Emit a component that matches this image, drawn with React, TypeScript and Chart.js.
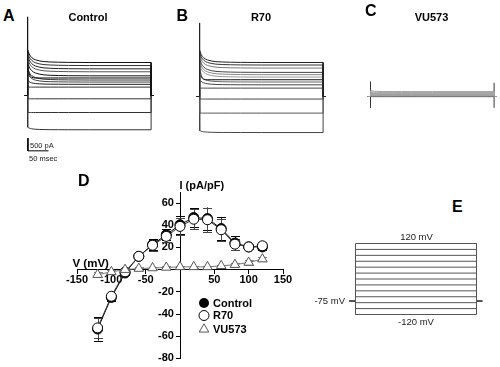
import React, { useEffect, useRef } from 'react';
import { Chart, registerables } from 'chart.js';

Chart.register(...registerables);

const FONT = "'Liberation Sans', Arial, Helvetica, sans-serif";

// ---------- Panel D : I-V relationship (pA/pF vs mV) ----------
const voltages = [-120, -100, -80, -60, -40, -20, 0, 20, 40, 60, 80, 100, 120];
const controlIV = [-53.5, -25, -3, 12, 22.5, 31.5, 40.5, 47, 46, 37, 24, 20.5, 20.5];
const controlErr = [10.5, 3, 2, 1.5, 5, 5, 8, 8.5, 10, 10.5, 6, 2, 2.5];
const r70IV = [-52.5, -24, -2, 12, 22, 30, 39, 45.5, 45, 36, 23, 20.5, 21.5];
const r70Err = [9, 3, 2, 1.5, 5, 5, 8, 9, 11, 10, 5, 2, 3];
const vuIV = [-4.5, -2, 0, 1, 1.5, 2, 2.5, 2.5, 2.5, 3.5, 4.5, 6.5, 9.5];
const vuErr = [2.5, 1.5, 1.5, 1, 1, 1, 1, 1, 1, 1, 1.5, 2, 2];
const xTickValues = [-150, -100, -50, 50, 100, 150];
const yTickValues = [-80, -60, -40, -20, 20, 40, 60];
const legendLabels = ['Control', 'R70', 'VU573'];

// ---------- Panels A-C : current traces (pA vs ms) ----------
const decayTimes = [0, 1, 2, 4, 7, 10, 15, 20, 30, 40, 55, 75, 100, 150, 300];
const slowDecay = [1, 0.85, 0.72, 0.56, 0.42, 0.33, 0.23, 0.17, 0.1, 0.06, 0.035, 0.018, 0.008, 0, 0];
const fastDecay = [1, 0.75, 0.55, 0.3, 0.12, 0.05, 0.01, 0, 0, 0, 0, 0, 0, 0, 0];
const holdStart = -8;
const pulseEnd = 300;
const holdEnd = 307;

const controlSteady = [1300, 1180, 1050, 935, 775, 690, 610, 530, 440, 330, -130, -670, -1350];
const controlPeak = [1900, 1800, 1680, 1560, 1400, 1280, 1150, 950, 620, 330, -130, -670, -1230];
const controlFast = [0, 0, 0, 0, 0, 1, 0, 0, 0, 0, 0, 0, 0];
const controlShade = ['#111', '#333', '#222', '#555', '#111', '#000', '#333', '#444', '#222', '#333', '#333', '#333', '#333'];
const controlSpike = 3100;

const r70Steady = [1340, 1240, 1120, 950, 860, 765, 660, 570, 460, 330, -100, -655, -1420];
const r70Peak = [1900, 1820, 1720, 1600, 1480, 1350, 1250, 900, 700, 330, -100, -655, -1330];
const r70Fast = [0, 0, 0, 0, 0, 0, 1, 0, 0, 0, 0, 0, 0];
const r70Shade = ['#222', '#333', '#777', '#444', '#888', '#999', '#111', '#666', '#444', '#444', '#444', '#555', '#444'];
const r70Spike = 2900;

const vuSteady = [-10, 0, 10, 20, 30, 45, 60, 75, 90, 110, 130, 160, 190];
const vuPeak = [-10, 0, 10, 25, 40, 60, 80, 100, 120, 140, 160, 200, 240];
const vuShade = ['#999', '#222', '#999', '#aaa', '#999', '#aaa', '#999', '#aaa', '#999', '#aaa', '#999', '#aaa', '#999'];
const vuTransientOn = [-450, 590];
const vuTransientOff = [-445, 540];

const scaleBarCurrent = 500; // pA
const scaleBarTime = 50; // ms
const scaleBarOrigin = { t: 1, i: -2180 };

// ---------- Panel E : voltage protocol (mV vs ms) ----------
const stepVoltages = [-120, -100, -80, -60, -40, -20, 0, 20, 40, 60, 80, 100, 120];
const holdingPotential = -75;
const protocolPre = -15;
const protocolPost = 314;

type Geo = { left: number; top: number; width: number; height: number; x0: number; y0: number; pxPerX: number; pxPerY: number };

const geoA: Geo = { left: 15, top: 8, width: 150, height: 152, x0: 27.5, y0: 95.5, pxPerX: 0.412, pxPerY: 1 / 39.4 };
const geoB: Geo = { left: 185, top: 8, width: 150, height: 135, x0: 199.5, y0: 96.5, pxPerX: 0.412, pxPerY: 1 / 39.4 };
const geoC: Geo = { left: 355, top: 60, width: 145, height: 60, x0: 370.5, y0: 96.5, pxPerX: 0.412, pxPerY: 1 / 39.4 };
const geoE: Geo = { left: 340, top: 230, width: 150, height: 100, x0: 355.5, y0: 279, pxPerX: 121 / 300, pxPerY: 35.5 / 120 };

function tracePoints(steady: number, peak: number, shape: number[], spike?: number) {
  const pts: { x: number; y: number }[] = [{ x: holdStart, y: 0 }, { x: 0, y: 0 }];
  if (spike !== undefined) pts.push({ x: 0, y: spike });
  decayTimes.forEach((t, i) => pts.push({ x: t, y: steady + (peak - steady) * shape[i] }));
  pts.push({ x: pulseEnd, y: 0 }, { x: holdEnd, y: 0 });
  return pts;
}

function lineDs(data: { x: number; y: number }[], color: string, width = 1) {
  return { data, showLine: true, borderColor: color, borderWidth: width, pointRadius: 0, fill: false, tension: 0 };
}

function buildTraceSets(steady: number[], peak: number[], fast: number[] | null, shade: string[], spike?: number) {
  return steady.map((s, i) =>
    lineDs(tracePoints(s, peak[i], fast && fast[i] ? fastDecay : slowDecay, i === 0 ? spike : undefined), shade[i])
  );
}

function LineCanvas({ geo, datasets }: { geo: Geo; datasets: any[] }) {
  const ref = useRef<HTMLCanvasElement>(null);
  useEffect(() => {
    const xmin = -(geo.x0 - geo.left) / geo.pxPerX;
    const xmax = xmin + geo.width / geo.pxPerX;
    const ymax = (geo.y0 - geo.top) / geo.pxPerY;
    const ymin = ymax - geo.height / geo.pxPerY;
    const chart = new Chart(ref.current as HTMLCanvasElement, {
      type: 'scatter',
      data: { datasets },
      options: {
        animation: false,
        responsive: false,
        devicePixelRatio: 1,
        events: [],
        layout: { padding: 0 },
        plugins: { legend: { display: false }, tooltip: { enabled: false } },
        scales: {
          x: { type: 'linear', display: false, min: xmin, max: xmax },
          y: { type: 'linear', display: false, min: ymin, max: ymax },
        },
      } as any,
    });
    return () => chart.destroy();
  }, []);
  return (
    <canvas
      ref={ref}
      width={geo.width}
      height={geo.height}
      style={{ position: 'absolute', left: geo.left, top: geo.top, width: geo.width, height: geo.height }}
    />
  );
}

function IVChart() {
  const ref = useRef<HTMLCanvasElement>(null);
  useEffect(() => {
    const mk = (arr: number[]) => voltages.map((v, i) => ({ x: v, y: arr[i] }));
    const errSeries = [
      { vals: controlIV, err: controlErr, color: '#000' },
      { vals: r70IV, err: r70Err, color: '#444' },
      { vals: vuIV, err: vuErr, color: '#888' },
    ];
    const errorBars = {
      id: 'errorBars',
      beforeDatasetsDraw(chart: any) {
        const { ctx, scales } = chart;
        ctx.save();
        ctx.lineWidth = 1;
        errSeries.forEach((s) => {
          ctx.strokeStyle = s.color;
          voltages.forEach((v, i) => {
            const px = Math.round(scales.x.getPixelForValue(v)) + 0.5;
            const yt = scales.y.getPixelForValue(s.vals[i] + s.err[i]);
            const yb = scales.y.getPixelForValue(s.vals[i] - s.err[i]);
            ctx.beginPath();
            ctx.moveTo(px, yt);
            ctx.lineTo(px, yb);
            ctx.moveTo(px - 4.5, Math.round(yt) + 0.5);
            ctx.lineTo(px + 4.5, Math.round(yt) + 0.5);
            ctx.moveTo(px - 4.5, Math.round(yb) + 0.5);
            ctx.lineTo(px + 4.5, Math.round(yb) + 0.5);
            ctx.stroke();
          });
        });
        ctx.restore();
      },
    };
    const legend = {
      id: 'ivLegend',
      afterDraw(chart: any) {
        const ctx = chart.ctx;
        ctx.save();
        const mx = 204;
        const rows = [133, 145.5, 159.3];
        ctx.lineWidth = 1;
        // Control
        ctx.beginPath();
        ctx.arc(mx, rows[0], 5, 0, Math.PI * 2);
        ctx.fillStyle = '#000';
        ctx.fill();
        // R70
        ctx.beginPath();
        ctx.arc(mx, rows[1], 5, 0, Math.PI * 2);
        ctx.fillStyle = '#fff';
        ctx.fill();
        ctx.strokeStyle = '#000';
        ctx.stroke();
        // VU573
        const r = 5.5;
        ctx.beginPath();
        ctx.moveTo(mx, rows[2] - r);
        ctx.lineTo(mx + r * Math.sin((2 * Math.PI) / 3), rows[2] + r / 2);
        ctx.lineTo(mx - r * Math.sin((2 * Math.PI) / 3), rows[2] + r / 2);
        ctx.closePath();
        ctx.fillStyle = '#fff';
        ctx.fill();
        ctx.strokeStyle = '#555';
        ctx.stroke();
        ctx.fillStyle = '#000';
        ctx.font = 'bold 11px ' + FONT;
        ctx.textBaseline = 'middle';
        ctx.textAlign = 'left';
        legendLabels.forEach((l, i) => ctx.fillText(l, 213, rows[i] + 0.5));
        ctx.restore();
      },
    };
    const tickFont = { family: FONT, size: 11, weight: 'bold' };
    const chart = new Chart(ref.current as HTMLCanvasElement, {
      type: 'scatter',
      data: {
        datasets: [
          {
            label: legendLabels[0],
            data: mk(controlIV),
            showLine: true,
            borderColor: '#000',
            borderWidth: 1,
            pointStyle: 'circle',
            pointRadius: 5,
            pointBackgroundColor: '#000',
            pointBorderColor: '#000',
            order: 3,
          },
          {
            label: legendLabels[1],
            data: mk(r70IV),
            showLine: true,
            borderColor: '#333',
            borderWidth: 1,
            pointStyle: 'circle',
            pointRadius: 5,
            pointBackgroundColor: '#fff',
            pointBorderColor: '#000',
            pointBorderWidth: 1,
            order: 2,
          },
          {
            label: legendLabels[2],
            data: mk(vuIV),
            showLine: true,
            borderColor: '#777',
            borderWidth: 1,
            pointStyle: 'triangle',
            pointRadius: 5.5,
            pointBackgroundColor: '#fff',
            pointBorderColor: '#555',
            pointBorderWidth: 1,
            order: 1,
          },
        ],
      },
      options: {
        animation: false,
        responsive: false,
        devicePixelRatio: 1,
        events: [],
        layout: { padding: { left: 77, right: 17, top: 22, bottom: 6.3 } },
        plugins: { legend: { display: false }, tooltip: { enabled: false } },
        scales: {
          x: {
            type: 'linear',
            min: -150,
            max: 150,
            position: { y: 0 },
            afterBuildTicks: (s: any) => {
              s.ticks = xTickValues.map((v) => ({ value: v }));
            },
            ticks: { font: tickFont, color: '#000', padding: 0, maxRotation: 0, autoSkip: false },
            grid: { display: true, drawOnChartArea: false, drawTicks: true, tickLength: 4, color: '#000' },
            border: { display: true, color: '#000', width: 1 },
          },
          y: {
            type: 'linear',
            min: -80,
            max: 70,
            position: { x: 0 },
            afterBuildTicks: (s: any) => {
              s.ticks = yTickValues.map((v) => ({ value: v }));
            },
            ticks: {
              font: tickFont,
              color: '#000',
              padding: 2,
              autoSkip: false,
              callback: (v: any) => String(v) + '  ',
            },
            grid: { display: true, drawOnChartArea: false, drawTicks: true, tickLength: 4, color: '#000' },
            border: { display: true, color: '#000', width: 1 },
          },
        },
      } as any,
      plugins: [errorBars, legend],
    });
    return () => chart.destroy();
  }, []);
  return (
    <canvas ref={ref} width={300} height={197} style={{ position: 'absolute', left: 0, top: 170, width: 300, height: 197 }} />
  );
}

function Txt({
  x,
  y,
  s,
  bold = false,
  align = 'left',
  color = '#000',
  children,
}: {
  x: number;
  y: number;
  s: number;
  bold?: boolean;
  align?: 'left' | 'center' | 'right';
  color?: string;
  children: React.ReactNode;
}) {
  const style: React.CSSProperties = {
    position: 'absolute',
    top: y - s / 2,
    height: s,
    fontSize: s,
    lineHeight: s + 'px',
    fontFamily: FONT,
    fontWeight: bold ? 'bold' : 'normal',
    color,
    whiteSpace: 'nowrap',
  };
  if (align === 'left') style.left = x;
  else if (align === 'right') style.right = 500 - x;
  else {
    style.left = x;
    style.transform = 'translateX(-50%)';
  }
  return <div style={style}>{children}</div>;
}

export default function App() {
  const setsA = [
    ...buildTraceSets(controlSteady, controlPeak, controlFast, controlShade, controlSpike),
    lineDs(
      [
        { x: scaleBarOrigin.t, y: scaleBarOrigin.i + scaleBarCurrent },
        { x: scaleBarOrigin.t, y: scaleBarOrigin.i },
        { x: scaleBarOrigin.t + scaleBarTime, y: scaleBarOrigin.i },
      ],
      '#000'
    ),
  ];
  const setsB = buildTraceSets(r70Steady, r70Peak, r70Fast, r70Shade, r70Spike);
  const setsC = [
    ...buildTraceSets(vuSteady, vuPeak, null, vuShade),
    lineDs(vuTransientOn.map((v) => ({ x: 0, y: v })), '#333'),
    lineDs(vuTransientOff.map((v) => ({ x: pulseEnd, y: v })), '#333'),
  ];
  const setsE = stepVoltages.map((v) =>
    lineDs(
      [
        { x: protocolPre, y: holdingPotential },
        { x: 0, y: holdingPotential },
        { x: 0, y: v },
        { x: pulseEnd, y: v },
        { x: pulseEnd, y: holdingPotential },
        { x: protocolPost, y: holdingPotential },
      ],
      '#555'
    )
  );

  return (
    <div style={{ position: 'absolute', left: 0, top: 0, width: 500, height: 367, background: '#fff', overflow: 'hidden' }}>
      <LineCanvas geo={geoA} datasets={setsA} />
      <LineCanvas geo={geoB} datasets={setsB} />
      <LineCanvas geo={geoC} datasets={setsC} />
      <LineCanvas geo={geoE} datasets={setsE} />
      <IVChart />

      <Txt x={3} y={15.5} s={16} bold>A</Txt>
      <Txt x={176.5} y={15.5} s={16} bold>B</Txt>
      <Txt x={365} y={10.5} s={16} bold>C</Txt>
      <Txt x={78} y={181} s={16} bold>D</Txt>
      <Txt x={452} y={207} s={16} bold>E</Txt>

      <Txt x={88} y={17} s={11} bold align="center">Control</Txt>
      <Txt x={261} y={17} s={11} bold align="center">R70</Txt>
      <Txt x={431.5} y={17} s={11} bold align="center">VU573</Txt>

      <Txt x={30} y={146} s={7.5} color="#222">500 pA</Txt>
      <Txt x={29} y={159} s={7.5} color="#222">50 msec</Txt>

      <Txt x={72.5} y={263.5} s={11.5} bold>V (mV)</Txt>
      <Txt x={179.5} y={185.5} s={11} bold>I (pA/pF)</Txt>

      <Txt x={416.5} y={237} s={9.5} align="center" color="#222">120 mV</Txt>
      <Txt x={416} y={321.7} s={9.5} align="center" color="#222">-120 mV</Txt>
      <Txt x={345} y={300.5} s={9.5} align="right" color="#222">-75 mV</Txt>
    </div>
  );
}
